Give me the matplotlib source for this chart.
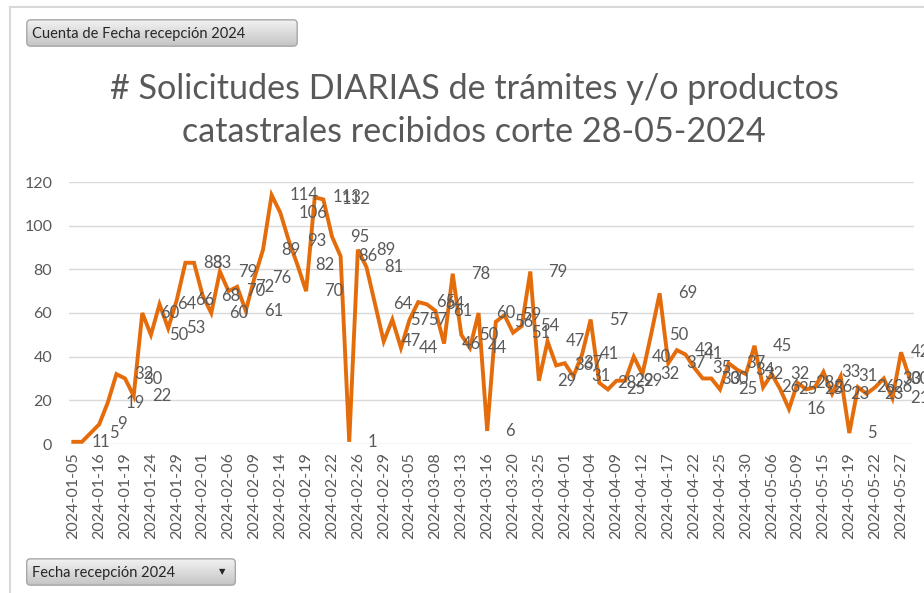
import numpy as np
import matplotlib.pyplot as plt
from matplotlib.colors import LinearSegmentedColormap
from matplotlib.patches import FancyBboxPatch

# fechas de recepcion (categorias del eje x)
fechas = [
    '2024-01-05', '2024-01-10', '2024-01-12', '2024-01-16', '2024-01-17', '2024-01-18',
    '2024-01-19', '2024-01-22', '2024-01-23', '2024-01-24', '2024-01-25', '2024-01-26',
    '2024-01-29', '2024-01-30', '2024-01-31', '2024-02-01', '2024-02-02', '2024-02-05',
    '2024-02-06', '2024-02-07', '2024-02-08', '2024-02-09', '2024-02-12', '2024-02-13',
    '2024-02-14', '2024-02-15', '2024-02-16', '2024-02-19', '2024-02-20', '2024-02-21',
    '2024-02-22', '2024-02-23', '2024-02-24', '2024-02-26', '2024-02-27', '2024-02-28',
    '2024-02-29', '2024-03-01', '2024-03-04', '2024-03-05', '2024-03-06', '2024-03-07',
    '2024-03-08', '2024-03-11', '2024-03-12', '2024-03-13', '2024-03-14', '2024-03-15',
    '2024-03-16', '2024-03-18', '2024-03-19', '2024-03-20', '2024-03-21', '2024-03-22',
    '2024-03-25', '2024-03-26', '2024-03-27', '2024-04-01', '2024-04-02', '2024-04-03',
    '2024-04-04', '2024-04-05', '2024-04-08', '2024-04-09', '2024-04-10', '2024-04-11',
    '2024-04-12', '2024-04-15', '2024-04-16', '2024-04-17', '2024-04-18', '2024-04-19',
    '2024-04-22', '2024-04-23', '2024-04-24', '2024-04-25', '2024-04-26', '2024-04-29',
    '2024-04-30', '2024-05-02', '2024-05-03', '2024-05-06', '2024-05-07', '2024-05-08',
    '2024-05-09', '2024-05-10', '2024-05-14', '2024-05-15', '2024-05-16', '2024-05-17',
    '2024-05-19', '2024-05-20', '2024-05-21', '2024-05-22', '2024-05-23', '2024-05-24',
    '2024-05-27', '2024-05-28',
]

# cuenta de solicitudes por dia
solicitudes = [
    1, 1, 5, 9, 19, 32, 30, 22, 60, 50, 64, 53, 66, 83, 83, 68, 60, 79, 70, 72,
    61, 76, 89, 114, 106, 93, 82, 70, 113, 112, 95, 86, 1, 89, 81, 64, 47, 57, 44, 57,
    65, 64, 61, 46, 78, 50, 44, 60, 6, 56, 59, 51, 54, 79, 29, 47, 36, 37, 31, 41,
    57, 28, 25, 29, 29, 40, 32, 50, 69, 37, 43, 41, 35, 30, 30, 25, 37, 34, 32, 45,
    26, 32, 25, 16, 28, 25, 26, 33, 23, 31, 5, 26, 23, 26, 30, 21, 42, 30,
]

titulo = ['# Solicitudes DIARIAS de trámites y/o productos',
          'catastrales recibidos corte 28-05-2024']

plt.rcParams['font.family'] = ['Lato', 'DejaVu Sans']
gris = '#595959'
naranja = '#E46C0A'
W, H = 924, 593

fig = plt.figure(figsize=(W / 100, H / 100), dpi=100)

# marco del grafico
fig.add_artist(plt.Line2D([10 / W, 10 / W], [0, 1 - 7 / H], transform=fig.transFigure,
                          color='#d9d9d9', lw=1.5))
fig.add_artist(plt.Line2D([10 / W, 1], [1 - 7 / H, 1 - 7 / H], transform=fig.transFigure,
                          color='#d9d9d9', lw=1.5))


def boton(x0, y0, w, h, texto, flecha=False):
    bax = fig.add_axes([x0 / W, 1 - (y0 + h) / H, w / W, h / H])
    bax.set_axis_off()
    grad = np.linspace(0, 1, 60).reshape(-1, 1)
    cmap = LinearSegmentedColormap.from_list('btn', ['#f3f3f3', '#c3c3c3'])
    im = bax.imshow(grad, aspect='auto', cmap=cmap, extent=(0, 1, 0, 1))
    borde = FancyBboxPatch((0.003, 0.03), 0.994, 0.94,
                           boxstyle='round,pad=0,rounding_size=%f' % (4 / w),
                           mutation_aspect=w / h, transform=bax.transAxes,
                           fc='none', ec='#a6a6a6', lw=1)
    bax.add_patch(borde)
    im.set_clip_path(borde)
    bax.text(6 / w, 0.48, texto, ha='left', va='center', fontsize=10.5, color='#262626')
    if flecha:
        bax.text(1 - 14 / w, 0.5, '▼', ha='center', va='center', fontsize=6,
                 color='#262626', family='DejaVu Sans')


boton(26, 19, 272, 28, 'Cuenta de Fecha recepción 2024')
boton(26, 558, 210, 28, 'Fecha recepción 2024', flecha=True)

fig.text(474 / W, 1 - 89 / H, titulo[0], ha='center', va='center', fontsize=24.6, color=gris)
fig.text(474 / W, 1 - 132 / H, titulo[1], ha='center', va='center', fontsize=24.6, color=gris)

ax = fig.add_axes([69 / W, 1 - 444 / H, (914 - 69) / W, (444 - 182) / H])
x = np.arange(len(fechas))
ax.plot(x, solicitudes, color=naranja, lw=2.8, solid_joinstyle='miter', zorder=3)
ax.set_xlim(-0.5, len(fechas) - 0.5)
ax.set_ylim(0, 120)
ax.set_yticks(range(0, 121, 20))
ax.grid(axis='y', color='#d9d9d9', lw=1)
ax.set_axisbelow(True)
for s in ax.spines.values():
    s.set_visible(False)
ax.tick_params(axis='y', length=0, pad=12, labelsize=11.5, labelcolor=gris)
ax.set_xticks(x[::3])
ax.set_xticklabels(fechas[::3], rotation=90)
ax.tick_params(axis='x', length=0, pad=6, labelsize=11.5, labelcolor=gris)

# etiquetas de datos a la derecha de cada punto (las ultimas quedan pegadas al borde)
ultimo = len(fechas) - 3
for i, v in enumerate(solicitudes):
    ax.annotate(str(v), (min(i, ultimo), v), xytext=(13, 0), textcoords='offset points',
                ha='left', va='center', fontsize=12, color=gris, annotation_clip=False)

fig.savefig('out.png', dpi=100)
